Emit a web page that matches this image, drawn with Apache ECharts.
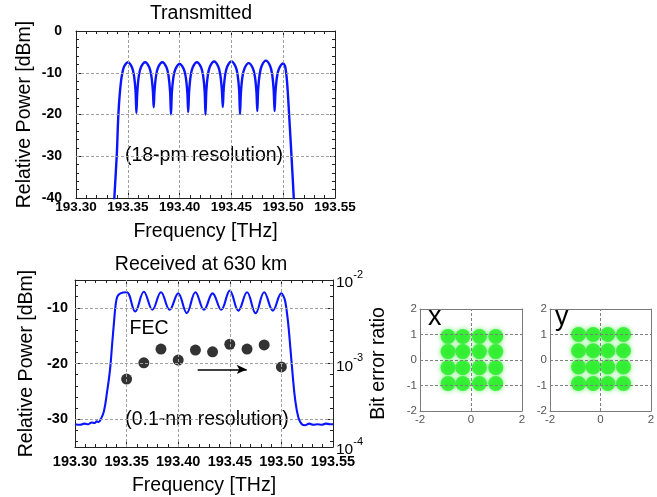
<!DOCTYPE html>
<html>
<head>
<meta charset="utf-8">
<script src="https://cdn.jsdelivr.net/npm/echarts@6/dist/echarts.min.js"></script>
<style>
  html, body { margin: 0; padding: 0; background: #fff; }
  #chart { width: 657px; height: 497px; }
</style>
</head>
<body>
<div id="chart"></div>
<script>
// ---- data -------------------------------------------------------------

// Transmitted spectrum, 18-pm resolution: [frequency (THz), power (dBm)]
const transmitted = [
  [193.3360, -46.0], [193.3370, -40.0], [193.3394, -29.5], [193.3409, -20.0], [193.3432, -12.6], [193.3460, -8.8], [193.3500, -7.5],
  [193.3540, -8.7], [193.3560, -10.7], [193.3575, -14.5], [193.3583, -19.6],
  [193.3592, -14.5], [193.3607, -10.7], [193.3627, -8.7], [193.3667, -7.5], [193.3707, -8.7], [193.3727, -10.7], [193.3742, -14.3], [193.3750, -18.3],
  [193.3758, -14.3], [193.3773, -10.7], [193.3793, -8.7], [193.3833, -7.5], [193.3873, -8.7], [193.3893, -10.7], [193.3908, -14.5], [193.3917, -20.0],
  [193.3925, -14.9], [193.3940, -11.1], [193.3960, -9.1], [193.4000, -7.9], [193.4040, -9.1], [193.4060, -11.1], [193.4075, -14.9], [193.4083, -19.4],
  [193.4092, -14.5], [193.4107, -10.7], [193.4127, -8.7], [193.4167, -7.5], [193.4207, -8.7], [193.4227, -10.7], [193.4242, -14.5], [193.4250, -20.0],
  [193.4258, -14.3], [193.4273, -10.5], [193.4293, -8.5], [193.4333, -7.3], [193.4373, -8.5], [193.4393, -10.5], [193.4408, -14.1], [193.4417, -18.2],
  [193.4425, -14.1], [193.4440, -10.5], [193.4460, -8.5], [193.4500, -7.3], [193.4540, -8.5], [193.4560, -10.5], [193.4575, -14.3], [193.4583, -19.9],
  [193.4592, -14.7], [193.4607, -10.9], [193.4627, -8.9], [193.4667, -7.7], [193.4707, -8.9], [193.4727, -10.9], [193.4742, -14.7], [193.4750, -19.2],
  [193.4758, -14.1], [193.4773, -10.3], [193.4793, -8.3], [193.4833, -7.1], [193.4873, -8.3], [193.4893, -10.3], [193.4908, -14.1], [193.4917, -19.2],
  [193.4925, -14.8], [193.4940, -11.0], [193.4960, -9.0], [193.5000, -7.8],
  [193.5020, -8.6], [193.5038, -12.4], [193.5057, -20.0], [193.5079, -29.5], [193.5102, -40.0], [193.5112, -46.0]
];

// Received spectrum after 630 km, 0.1-nm resolution
const received = [
  [193.300, -30.9], [193.305, -31.0], [193.309, -30.8], [193.313, -30.9], [193.316, -30.6], [193.319, -30.7],
  [193.321, -30.4], [193.323, -30.5], [193.325, -30.0], [193.328, -28.6], [193.331, -25.2], [193.334, -21.0],
  [193.336, -16.5], [193.3377, -12.8], [193.3393, -9.6], [193.341, -8.0], [193.344, -7.4],
  [193.3500, -7.2], [193.3583, -10.65], [193.3667, -7.1], [193.3750, -10.35], [193.3833, -7.2], [193.3917, -10.35],
  [193.4000, -7.4], [193.4083, -10.95], [193.4167, -7.2], [193.4250, -10.35], [193.4333, -7.4], [193.4417, -10.35],
  [193.4500, -6.9], [193.4583, -10.5], [193.4667, -7.2], [193.4750, -10.95], [193.4833, -7.2], [193.4917, -10.5],
  [193.5000, -7.4],
  [193.5020, -7.9], [193.5038, -8.9], [193.5063, -12.3], [193.5086, -17.0], [193.5108, -21.8], [193.5134, -26.6],
  [193.5166, -29.8], [193.5198, -30.9], [193.523, -31.1], [193.527, -30.8], [193.531, -31.0], [193.535, -30.9],
  [193.539, -31.0], [193.543, -30.8], [193.547, -30.9], [193.550, -30.9]
];

// Sub-carrier centre frequencies (THz) and measured bit error ratio
const carrierFreq = [193.3500, 193.3667, 193.3833, 193.4000, 193.4167, 193.4333, 193.4500, 193.4667, 193.4833, 193.5000];
const carrierBer  = [6.5e-4, 1.02e-3, 1.49e-3, 1.10e-3, 1.45e-3, 1.38e-3, 1.70e-3, 1.49e-3, 1.67e-3, 9.1e-4];

// FEC threshold and the arrow drawn under the BER points
const fecLimit = 2e-3;
const arrowFreq = [193.4189, 193.4664];
const arrowBer = 8.5e-4;

// Reference grid of the two spectrum panels
const freqGrid = [193.35, 193.40, 193.45, 193.50];
const txPowerGrid = [-10, -20, -30];
const rxPowerGrid = [-10, -20, -30];

// 16-QAM cluster centres for the two polarisations
const xPolI = [-0.90, -0.32, 0.33, 0.97];
const xPolQ = [0.92, 0.33, -0.30, -0.92];
const yPolI = [-0.87, -0.29, 0.29, 0.91];
const yPolQ = [1.00, 0.36, -0.27, -0.92];
const iqGridI = [0];
const iqGridQ = [1, 0, -1];

// ---- styling helpers ---------------------------------------------------

const FONT = '"Liberation Sans", Arial, Helvetica, sans-serif';
const AXC = '#222';
const BLUE = '#0a14ff';

function clusters(iv, qv) {
  const pts = [];
  qv.forEach(q => iv.forEach(i => pts.push([i, q])));
  return pts;
}

// short-dash grid lines drawn as mark lines through the series' own axes
function gridLines(xs, ys, color) {
  const style = { type: [3, 2], color: color, width: 1 };
  return {
    silent: true, animation: false, symbol: ['none', 'none'],
    label: { show: false },
    data: xs.map(v => ({ xAxis: v, symbol: 'none', lineStyle: style }))
      .concat(ys.map(v => ({ yAxis: v, symbol: 'none', lineStyle: style })))
  };
}

const tickStyle = { show: true, inside: true, length: 5, lineStyle: { color: AXC, width: 1 } };
const minorStyle = { show: true, splitNumber: 5, length: 3, lineStyle: { color: AXC, width: 1 } };
const axisLineStyle = { show: true, onZero: false, lineStyle: { color: AXC, width: 1 } };

function freqAxis(grid, position, withLabels, fontSize, margin, nameGap) {
  return {
    type: 'value', gridIndex: grid, position: position,
    min: 193.30, max: 193.55, interval: 0.05,
    axisLine: axisLineStyle,
    axisTick: tickStyle,
    minorTick: minorStyle,
    splitLine: { show: false },
    axisLabel: {
      show: withLabels, margin: margin, color: '#000', fontFamily: FONT, fontWeight: 'bold', fontSize: fontSize,
      showMinLabel: true, showMaxLabel: true, hideOverlap: false,
      formatter: v => v.toFixed(2)
    },
    name: withLabels ? 'Frequency [THz]' : '',
    nameLocation: 'middle', nameGap: nameGap, nameMoveOverlap: false,
    nameTextStyle: { fontFamily: FONT, fontSize: 19.5, color: '#000' }
  };
}

function powerAxis(grid, position, min, max, extra) {
  return Object.assign({
    type: 'value', gridIndex: grid, position: position, min: min, max: max,
    axisLine: axisLineStyle,
    axisTick: tickStyle,
    minorTick: minorStyle,
    splitLine: { show: false },
    axisLabel: { show: false },
    nameMoveOverlap: false
  }, extra || {});
}

function iqAxis(grid, dim, position, withLabels) {
  return {
    type: 'value', gridIndex: grid, position: position,
    min: -2, max: 2, interval: dim === 'x' ? 2 : 1,
    axisLine: { show: true, onZero: false, lineStyle: { color: '#7a7a7a', width: 1 } },
    axisTick: { show: false },
    splitLine: { show: false },
    axisLabel: {
      show: withLabels, margin: 3, color: '#555', fontFamily: FONT, fontSize: 11.5,
      showMinLabel: true, showMaxLabel: true, hideOverlap: false
    }
  };
}

// ---- chart -------------------------------------------------------------

const chart = echarts.init(document.getElementById('chart'), null, { renderer: 'canvas' });

const labelFont = { fontFamily: FONT, fontSize: 19.5, color: '#000' };

chart.setOption({
  animation: false,
  backgroundColor: '#fff',
  grid: [
    { left: 76, top: 31, width: 259, height: 167, outerBoundsMode: 'none' },
    { left: 75, top: 280, width: 258, height: 167, outerBoundsMode: 'none' },
    { left: 420, top: 309, width: 102, height: 102, outerBoundsMode: 'none' },
    { left: 550, top: 309, width: 101, height: 102, outerBoundsMode: 'none' }
  ],
  xAxis: [
    freqAxis(0, 'bottom', true, 13.5, 2, 24),
    freqAxis(0, 'top', false),
    freqAxis(1, 'bottom', true, 14.5, 7, 29),
    freqAxis(1, 'top', false),
    iqAxis(2, 'x', 'bottom', true),
    iqAxis(2, 'x', 'top', false),
    iqAxis(3, 'x', 'bottom', true),
    iqAxis(3, 'x', 'top', false)
  ],
  yAxis: [
    powerAxis(0, 'left', -40, 0, {
      interval: 10,
      axisLabel: { show: true, margin: 14, color: '#000', fontFamily: FONT, fontWeight: 'bold', fontSize: 14,
                   showMinLabel: true, showMaxLabel: true, hideOverlap: false },
      name: 'Relative Power [dBm]', nameLocation: 'middle', nameRotate: 90, nameGap: 41,
      nameTextStyle: labelFont
    }),
    powerAxis(0, 'right', -40, 0, { interval: 10 }),
    powerAxis(1, 'left', -35, -5, {
      splitNumber: 3,
      axisLabel: { show: true, margin: 7, color: '#000', fontFamily: FONT, fontWeight: 'bold', fontSize: 14.5,
                   showMinLabel: true, showMaxLabel: true, hideOverlap: false,
                   formatter: v => (v % 10 === 0 ? String(v) : '') },
      name: 'Relative Power [dBm]', nameLocation: 'middle', nameRotate: 90, nameGap: 38,
      nameTextStyle: labelFont
    }),
    powerAxis(1, 'right', -35, -5, { splitNumber: 3 }),
    {
      type: 'log', gridIndex: 1, position: 'right', logBase: 10, min: 1e-4, max: 1e-2,
      axisLine: { show: false }, axisTick: { show: false }, splitLine: { show: false },
      minorTick: { show: false },
      axisLabel: {
        show: true, margin: 3, color: '#000', showMinLabel: true, showMaxLabel: true, hideOverlap: false,
        formatter: v => '{b|10}{s|' + Math.round(Math.log10(v)) + '}',
        rich: {
          b: { fontFamily: FONT, fontSize: 15.5, lineHeight: 22, verticalAlign: 'bottom', color: '#000' },
          s: { fontFamily: FONT, fontSize: 11, lineHeight: 11, verticalAlign: 'top', color: '#000' }
        }
      },
      name: 'Bit error ratio', nameLocation: 'middle', nameRotate: 90, nameGap: 36, nameMoveOverlap: false,
      nameTextStyle: labelFont
    },
    iqAxis(2, 'y', 'left', true),
    iqAxis(2, 'y', 'right', false),
    iqAxis(3, 'y', 'left', true),
    iqAxis(3, 'y', 'right', false)
  ],
  graphic: [
    { type: 'text', x: 201, y: 14, style: { text: 'Transmitted', font: '19.5px ' + FONT, fill: '#000', align: 'center', verticalAlign: 'middle', textAlign: 'center', textVerticalAlign: 'middle' } },
    { type: 'text', x: 204, y: 156, style: { text: '(18-pm resolution)', font: '19.5px ' + FONT, fill: '#000', align: 'center', verticalAlign: 'middle', textAlign: 'center', textVerticalAlign: 'middle' } },
    { type: 'text', x: 201, y: 265, style: { text: 'Received at 630 km', font: '19.5px ' + FONT, fill: '#000', align: 'center', verticalAlign: 'middle', textAlign: 'center', textVerticalAlign: 'middle' } },
    { type: 'text', x: 149, y: 329, style: { text: 'FEC', font: '19.5px ' + FONT, fill: '#000', align: 'center', verticalAlign: 'middle', textAlign: 'center', textVerticalAlign: 'middle' } },
    { type: 'text', x: 207, y: 420, style: { text: '(0.1-nm resolution)', font: '19.5px ' + FONT, fill: '#000', align: 'center', verticalAlign: 'middle', textAlign: 'center', textVerticalAlign: 'middle' } },
    { type: 'text', x: 428, y: 318, z: 10, style: { text: 'x', font: '27px ' + FONT, fill: '#000', align: 'left', verticalAlign: 'middle', textAlign: 'left', textVerticalAlign: 'middle' } },
    { type: 'text', x: 555, y: 318, z: 10, style: { text: 'y', font: '27px ' + FONT, fill: '#000', align: 'left', verticalAlign: 'middle', textAlign: 'left', textVerticalAlign: 'middle' } }
  ],
  series: [
    {
      name: 'Transmitted', type: 'line', xAxisIndex: 0, yAxisIndex: 0, z: 3,
      data: transmitted, smooth: 0.3, showSymbol: false, clip: true,
      lineStyle: { color: BLUE, width: 2.4 },
      markLine: gridLines(freqGrid, txPowerGrid, '#a0a0a0')
    },
    {
      name: 'Received', type: 'line', xAxisIndex: 2, yAxisIndex: 2, z: 3,
      data: received, smooth: 0.4, showSymbol: false, clip: true,
      lineStyle: { color: BLUE, width: 2.1 },
      markLine: gridLines(freqGrid, rxPowerGrid, '#a0a0a0')
    },
    {
      name: 'BER', type: 'scatter', xAxisIndex: 2, yAxisIndex: 4, z: 4,
      data: carrierFreq.map((f, i) => [f, carrierBer[i]]),
      symbol: 'circle', symbolSize: 11,
      itemStyle: { color: '#000' },
      markLine: {
        silent: true, animation: false,
        label: { show: false },
        data: [
          { yAxis: fecLimit, symbol: 'none', lineStyle: { type: [6, 4], color: '#000', width: 1.3 } },
          [
            { coord: [arrowFreq[0], arrowBer], symbol: 'none' },
            { coord: [arrowFreq[1], arrowBer], symbol: 'arrow', symbolSize: [7, 10] }
          ]
        ],
        lineStyle: { type: 'solid', color: '#000', width: 1.5 },
        symbol: ['none', 'none']
      }
    },
    {
      name: 'X-pol', type: 'scatter', xAxisIndex: 4, yAxisIndex: 5, z: 3,
      data: clusters(xPolI, xPolQ), symbol: 'circle', symbolSize: 15,
      itemStyle: { color: '#22ee22', shadowBlur: 5, shadowColor: 'rgba(60,235,60,0.9)' },
      markLine: gridLines(iqGridI, iqGridQ, '#808080')
    },
    {
      name: 'Y-pol', type: 'scatter', xAxisIndex: 6, yAxisIndex: 7, z: 3,
      data: clusters(yPolI, yPolQ), symbol: 'circle', symbolSize: 15,
      itemStyle: { color: '#22ee22', shadowBlur: 5, shadowColor: 'rgba(60,235,60,0.9)' },
      markLine: gridLines(iqGridI, iqGridQ, '#808080')
    }
  ]
});
</script>
</body>
</html>
